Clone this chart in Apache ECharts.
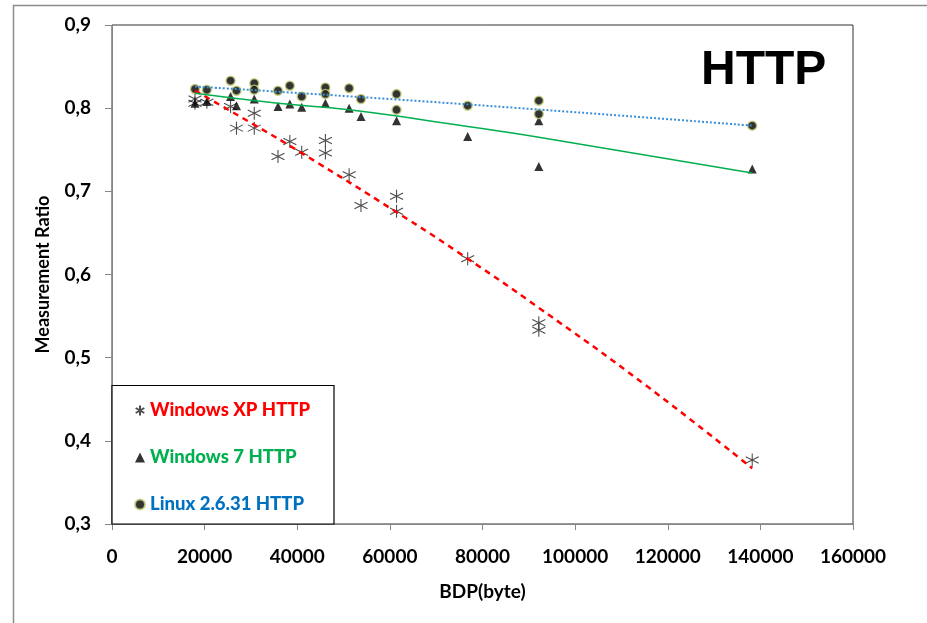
<!DOCTYPE html>
<html lang="en" style="background: #FFFFFF;height: 100%">
<head>
  <meta charset="utf-8" />
  <title>HTTP measurement ratio</title>
  <script src="https://cdn.jsdelivr.net/npm/echarts@6/dist/echarts.min.js"></script>
</head>
<body style="margin: 0;height: 100%">
<div id="chart" style="width: 927px;height: 623px"></div>
<script>
    // Windows XP HTTP
    const xpBdp = [17920, 17920, 20480, 25600, 26880, 30720, 30720, 35840, 38400, 40960, 46080, 46080, 51200, 53760, 61440, 61440, 76800, 92160, 92160, 138240]
    const xpRatio = [0.811, 0.806, 0.807, 0.802, 0.776, 0.794, 0.776, 0.742, 0.760, 0.747, 0.761, 0.746, 0.720, 0.683, 0.694, 0.676, 0.619, 0.542, 0.533, 0.377]
    // Windows 7 HTTP
    const w7Bdp = [17920, 20480, 25600, 26880, 30720, 35840, 38400, 40960, 46080, 51200, 53760, 61440, 76800, 92160, 92160, 138240]
    const w7Ratio = [0.806, 0.808, 0.814, 0.803, 0.811, 0.802, 0.805, 0.801, 0.806, 0.800, 0.790, 0.785, 0.766, 0.785, 0.730, 0.727]
    // Linux 2.6.31 HTTP
    const linuxBdp = [17920, 20480, 25600, 26880, 30720, 30720, 35840, 38400, 40960, 46080, 46080, 51200, 53760, 61440, 61440, 76800, 92160, 92160, 138240]
    const linuxRatio = [0.823, 0.822, 0.833, 0.821, 0.830, 0.822, 0.821, 0.827, 0.814, 0.825, 0.817, 0.824, 0.811, 0.817, 0.798, 0.803, 0.809, 0.793, 0.779]

    // trend lines
    const xpTrendBdp = [17920, 30720, 40960, 61440, 76800, 92160, 115200, 138240]
    const xpTrendRatio = [0.821, 0.780, 0.746, 0.675, 0.619, 0.560, 0.467, 0.367]
    const w7TrendBdp = [17920, 35840, 51200, 76800, 92160, 138240]
    const w7TrendRatio = [0.818, 0.806, 0.798, 0.778, 0.765, 0.722]
    const linuxTrendBdp = [17920, 73000, 138240]
    const linuxTrendRatio = [0.826, 0.806, 0.779]

    const seriesNames = ['Windows XP HTTP', 'Windows 7 HTTP', 'Linux 2.6.31 HTTP']
    const nameColors = ['#FF0000', '#00B050', '#0070C0']

    const pairs = (xs, ys) => xs.map((x, i) => [x, ys[i]])
    const asterisk = 'path://M5,0L5,10M0.7,2.5L9.3,7.5M0.7,7.5L9.3,2.5'
    const font = 'Lato'

    const chart = echarts.init(document.getElementById('chart'))
    chart.setOption({
        animation: false,
        backgroundColor: '#FFFFFF',
        grid: {
            left: 112, top: 25, right: 74, bottom: 99,
            show: true, borderColor: '#333', borderWidth: 1
        },
        graphic: [
            {
                type: 'rect', silent: true, z: -1,
                shape: {x: 13.5, y: 5.5, width: 1000, height: 700},
                style: {fill: null, stroke: '#8c8c8c', lineWidth: 1.5}
            },
            {
                type: 'text', left: 701, top: 47,
                style: {text: 'HTTP', font: 'bold 48px "Liberation Sans"', fill: '#000'}
            },
            {
                type: 'rect', silent: true, z: 5,
                shape: {x: 112, y: 385.5, width: 222, height: 138.5},
                style: {fill: '#fff', stroke: '#000', lineWidth: 1.2}
            }
        ],
        legend: {
            orient: 'vertical', left: 129, top: 395, z: 10,
            itemWidth: 10, itemHeight: 10, itemGap: 26,
            textStyle: {fontFamily: font, fontWeight: 900, fontSize: 18.5, lineHeight: 21},
            data: seriesNames.map((n, i) => ({
                name: n,
                icon: i === 0 ? asterisk : (i === 1 ? 'triangle' : 'circle'),
                textStyle: {color: nameColors[i]}
            }))
        },
        xAxis: {
            type: 'value', min: 0, max: 160000, interval: 20000,
            name: 'BDP(byte)', nameLocation: 'middle', nameGap: 58,
            nameTextStyle: {fontFamily: font, fontWeight: 'bold', fontSize: 19, color: '#000'},
            axisLine: {show: true, lineStyle: {color: '#868686', width: 1}},
            axisTick: {show: true, length: 6, lineStyle: {color: '#868686'}},
            axisLabel: {
                margin: 23, fontFamily: font, fontWeight: 'bold', fontSize: 19, color: '#000',
                formatter: v => String(v)
            },
            splitLine: {show: false}
        },
        yAxis: {
            type: 'value', min: 0.3, max: 0.9, interval: 0.1,
            name: 'Measurement Ratio', nameLocation: 'middle', nameGap: 60,
            nameTextStyle: {fontFamily: font, fontWeight: 'bold', fontSize: 18, color: '#000'},
            axisLine: {show: true, lineStyle: {color: '#868686', width: 1}},
            axisTick: {show: true, length: 7, lineStyle: {color: '#868686'}},
            axisLabel: {
                margin: 21, fontFamily: font, fontWeight: 'bold', fontSize: 19, color: '#000',
                formatter: v => v.toFixed(1).replace('.', ',')
            },
            splitLine: {show: false}
        },
        series: [
            {
                name: seriesNames[0], type: 'scatter', symbol: asterisk, symbolSize: 13,
                itemStyle: {color: 'rgba(0,0,0,0)', borderColor: '#222', borderWidth: 1.1},
                data: pairs(xpBdp, xpRatio)
            },
            {
                name: seriesNames[1], type: 'scatter', symbol: 'triangle', symbolSize: 9,
                itemStyle: {color: '#000'},
                data: pairs(w7Bdp, w7Ratio)
            },
            {
                name: seriesNames[2], type: 'scatter', symbol: 'circle', symbolSize: 9,
                itemStyle: {color: '#000', borderColor: '#c4d07a', borderWidth: 1.5},
                data: pairs(linuxBdp, linuxRatio)
            },
            {
                name: 'xp trend', type: 'line', smooth: true, showSymbol: false, z: 3,
                lineStyle: {color: '#FF0000', width: 2.5, type: [6, 5]},
                data: pairs(xpTrendBdp, xpTrendRatio)
            },
            {
                name: 'w7 trend', type: 'line', smooth: true, showSymbol: false, z: 3,
                lineStyle: {color: '#00B050', width: 1.5},
                data: pairs(w7TrendBdp, w7TrendRatio)
            },
            {
                name: 'linux trend', type: 'line', smooth: true, showSymbol: false, z: 3,
                lineStyle: {color: '#3b8fd6', width: 2, type: [2, 2]},
                data: pairs(linuxTrendBdp, linuxTrendRatio)
            }
        ]
    })

    window.addEventListener('resize', () => {
        chart.resize()
    })
</script>
</body>
</html>
